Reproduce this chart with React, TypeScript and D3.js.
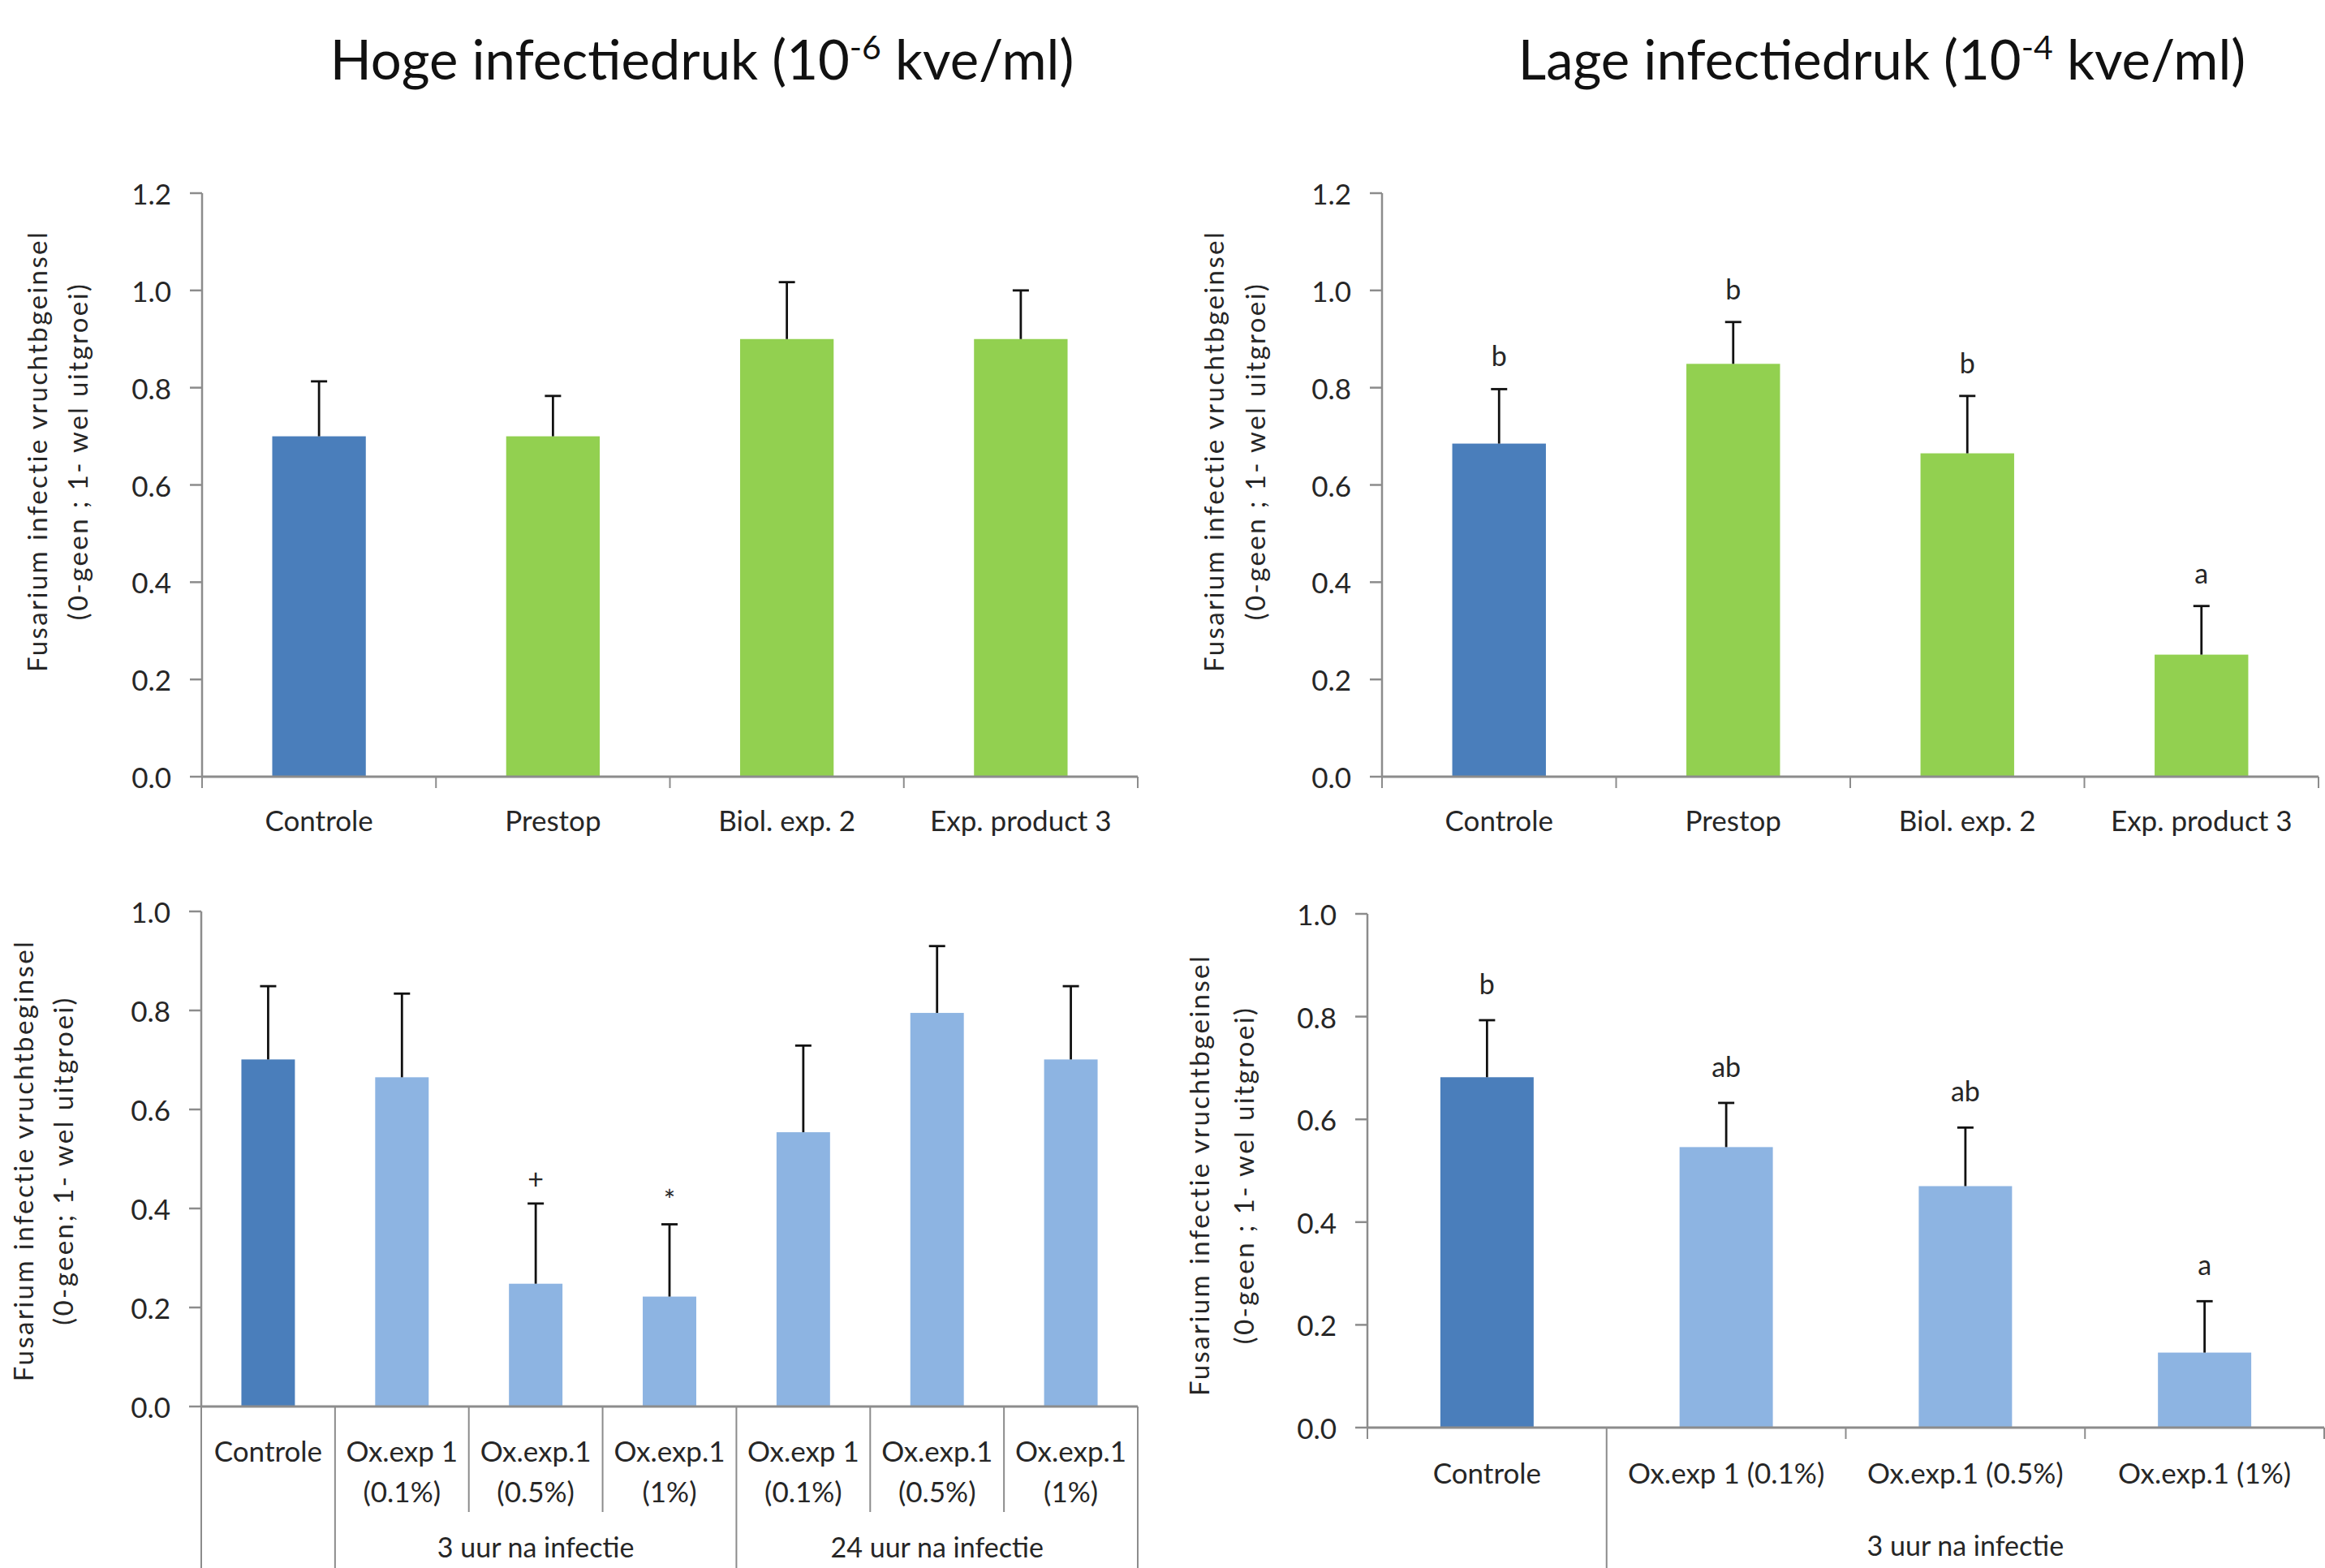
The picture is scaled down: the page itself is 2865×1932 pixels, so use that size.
import React from "react";
import * as d3 from "d3";

const W = 2865;
const H = 1932;
const FONT = "Lato, 'Open Sans', sans-serif";
const TEXT = "#262626";
const AXIS = "#8c8c8c";
const DARK_BLUE = "#4a7ebb";
const GREEN = "#92d050";
const LIGHT_BLUE = "#8db4e2";

// ---- data ----
const productCats = [["Controle"], ["Prestop"], ["Biol. exp. 2"], ["Exp. product 3"]];
const hogeMean = [0.70, 0.70, 0.90, 0.90];
const hogeErr = [0.113, 0.083, 0.117, 0.10];
const hogeMarks = ["", "", "", ""];

const lageMean = [0.685, 0.849, 0.665, 0.251];
const lageErr = [0.112, 0.086, 0.118, 0.10];
const lageMarks = ["b", "b", "b", "a"];

const oxCats = [
  ["Controle"],
  ["Ox.exp 1", "(0.1%)"],
  ["Ox.exp.1", "(0.5%)"],
  ["Ox.exp.1", "(1%)"],
  ["Ox.exp 1", "(0.1%)"],
  ["Ox.exp.1", "(0.5%)"],
  ["Ox.exp.1", "(1%)"],
];
const hogeOxMean = [0.701, 0.665, 0.248, 0.222, 0.554, 0.795, 0.701];
const hogeOxErr = [0.148, 0.169, 0.162, 0.146, 0.175, 0.135, 0.148];
const hogeOxMarks = ["", "", "+", "*", "", "", ""];
const hogeOxGroups = [
  { label: "3 uur na infectie", from: 1, to: 4 },
  { label: "24 uur na infectie", from: 4, to: 7 },
];

const lageOxCats = [["Controle"], ["Ox.exp 1 (0.1%)"], ["Ox.exp.1 (0.5%)"], ["Ox.exp.1 (1%)"]];
const lageOxMean = [0.682, 0.546, 0.470, 0.146];
const lageOxErr = [0.111, 0.086, 0.114, 0.10];
const lageOxMarks = ["b", "ab", "ab", "a"];
const lageOxGroups = [{ label: "3 uur na infectie", from: 1, to: 4 }];

const ticks12 = [0, 0.2, 0.4, 0.6, 0.8, 1.0, 1.2];
const ticks10 = [0, 0.2, 0.4, 0.6, 0.8, 1.0];

const titleLine1 = "Fusarium infectie vruchtbgeinsel";
const titleLine1b = "Fusarium infectie vruchtbeginsel";
const titleLine2 = "(0-geen ; 1- wel uitgroei)";
const titleLine2b = "(0-geen; 1- wel uitgroei)";

type Group = { label: string; from: number; to: number };

type PanelProps = {
  cats: string[][];
  means: number[];
  errs: number[];
  marks: string[];
  colors: string[];
  left: number;
  right: number;
  top: number;
  bottom: number;
  yMax: number;
  ticks: number[];
  barRatio: number;
  boundaryLen: number[];
  catY: number;
  groups?: Group[];
  groupY?: number;
  yTitle: [string, string];
  yTitleX: [number, number];
  yTitleY: number;
  markGap: number;
};

function Panel(p: PanelProps) {
  const idx = d3.range(p.cats.length);
  const x = d3.scaleBand<number>().domain(idx).range([p.left, p.right]).padding(0);
  const y = d3.scaleLinear().domain([0, p.yMax]).range([p.bottom, p.top]);
  const bw = x.bandwidth();
  const barW = bw * p.barRatio;
  const boundaries = d3.range(p.cats.length + 1).map((i) => p.left + i * bw);
  const fmt = d3.format(".1f");
  const cap = 10;

  return (
    <g>
      {/* y axis title */}
      {p.yTitle.map((t, i) => (
        <text
          key={i}
          transform={`translate(${p.yTitleX[i]},${p.yTitleY}) rotate(-90)`}
          textAnchor="middle"
          dominantBaseline="middle"
          fontSize={33}
          letterSpacing={2.4}
          fill={TEXT}
        >
          {t}
        </text>
      ))}

      {/* y axis */}
      <line x1={p.left} x2={p.left} y1={y(p.yMax)} y2={p.bottom} stroke={AXIS} strokeWidth={2.5} />
      {p.ticks.map((t) => (
        <g key={t}>
          <line x1={p.left - 15} x2={p.left} y1={y(t)} y2={y(t)} stroke={AXIS} strokeWidth={2.5} />
          <text x={p.left - 38} y={y(t)} textAnchor="end" dominantBaseline="central" fontSize={35} fill={TEXT}>
            {fmt(t)}
          </text>
        </g>
      ))}

      {/* bars */}
      {idx.map((i) => {
        const cx = (x(i) as number) + bw / 2;
        const yv = y(p.means[i]);
        const ye = y(p.means[i] + p.errs[i]);
        return (
          <g key={i}>
            <rect x={cx - barW / 2} y={yv} width={barW} height={p.bottom - yv} fill={p.colors[i]} />
            <line x1={cx} x2={cx} y1={yv} y2={ye} stroke="#111" strokeWidth={2.8} />
            <line x1={cx - cap} x2={cx + cap} y1={ye} y2={ye} stroke="#111" strokeWidth={2.8} />
            {p.marks[i] && (
              <text x={cx} y={ye - p.markGap} textAnchor="middle" fontSize={34} fill={TEXT}>
                {p.marks[i]}
              </text>
            )}
          </g>
        );
      })}

      {/* x axis */}
      <line x1={p.left} x2={p.right} y1={p.bottom} y2={p.bottom} stroke={AXIS} strokeWidth={3} />
      {boundaries.map((bx, i) => (
        <line key={i} x1={bx} x2={bx} y1={p.bottom} y2={p.bottom + p.boundaryLen[i]} stroke={AXIS} strokeWidth={2} />
      ))}
      {idx.map((i) => (
        <text key={i} x={(x(i) as number) + bw / 2} y={p.catY} textAnchor="middle" fontSize={35} fill={TEXT}>
          {p.cats[i].map((line, j) => (
            <tspan key={j} x={(x(i) as number) + bw / 2} dy={j === 0 ? 0 : 50}>
              {line}
            </tspan>
          ))}
        </text>
      ))}
      {p.groups &&
        p.groups.map((g) => (
          <text key={g.label} x={(boundaries[g.from] + boundaries[g.to]) / 2} y={p.groupY} textAnchor="middle" fontSize={34} fill={TEXT}>
            {g.label}
          </text>
        ))}
    </g>
  );
}

function Title({ cx, base, exp }: { cx: number; base: string; exp: string }) {
  return (
    <text x={cx} y={98} textAnchor="middle" fontSize={67} fill="#111">
      {base}
      <tspan dy={-25} fontSize={41}>
        {exp}
      </tspan>
      <tspan dy={25}> kve/ml)</tspan>
    </text>
  );
}

export default function App() {
  const toBottom = H;
  const topColors = [DARK_BLUE, GREEN, GREEN, GREEN];
  const oxColors = [DARK_BLUE, ...d3.range(6).map(() => LIGHT_BLUE)];
  const lageOxColors = [DARK_BLUE, LIGHT_BLUE, LIGHT_BLUE, LIGHT_BLUE];

  return (
    <div style={{ position: "absolute", left: 0, top: 0 }}>
      <svg width={W} height={H} viewBox={`0 0 ${W} ${H}`} fontFamily={FONT} style={{ display: "block", background: "#fff" }}>
        <rect width={W} height={H} fill="#fff" />
        <Title cx={865} base="Hoge infectiedruk (10" exp="-6" />
        <Title cx={2319} base="Lage infectiedruk (10" exp="-4" />

        <Panel
          cats={productCats}
          means={hogeMean}
          errs={hogeErr}
          marks={hogeMarks}
          colors={topColors}
          left={249}
          right={1402}
          top={238}
          bottom={957}
          yMax={1.2}
          ticks={ticks12}
          barRatio={0.4}
          boundaryLen={[14, 14, 14, 14, 14]}
          catY={1024}
          yTitle={[titleLine1, titleLine2]}
          yTitleX={[50, 100]}
          yTitleY={556}
          markGap={28}
        />
        <Panel
          cats={productCats}
          means={lageMean}
          errs={lageErr}
          marks={lageMarks}
          colors={topColors}
          left={1703}
          right={2857}
          top={238}
          bottom={957}
          yMax={1.2}
          ticks={ticks12}
          barRatio={0.4}
          boundaryLen={[14, 14, 14, 14, 14]}
          catY={1024}
          yTitle={[titleLine1, titleLine2]}
          yTitleX={[1500, 1551]}
          yTitleY={556}
          markGap={28}
        />
        <Panel
          cats={oxCats}
          means={hogeOxMean}
          errs={hogeOxErr}
          marks={hogeOxMarks}
          colors={oxColors}
          left={248}
          right={1402}
          top={1123}
          bottom={1733}
          yMax={1.0}
          ticks={ticks10}
          barRatio={0.4}
          boundaryLen={[toBottom, toBottom, 130, 130, toBottom, 130, 130, toBottom]}
          catY={1801}
          groups={hogeOxGroups}
          groupY={1919}
          yTitle={[titleLine1b, titleLine2b]}
          yTitleX={[33, 82]}
          yTitleY={1430}
          markGap={18}
        />
        <Panel
          cats={lageOxCats}
          means={lageOxMean}
          errs={lageOxErr}
          marks={lageOxMarks}
          colors={lageOxColors}
          left={1685}
          right={2864}
          top={1126}
          bottom={1759}
          yMax={1.0}
          ticks={ticks10}
          barRatio={0.39}
          boundaryLen={[14, toBottom, 14, 14, 14]}
          catY={1828}
          groups={lageOxGroups}
          groupY={1917}
          yTitle={[titleLine1, titleLine2]}
          yTitleX={[1482, 1537]}
          yTitleY={1448}
          markGap={32}
        />
      </svg>
    </div>
  );
}
